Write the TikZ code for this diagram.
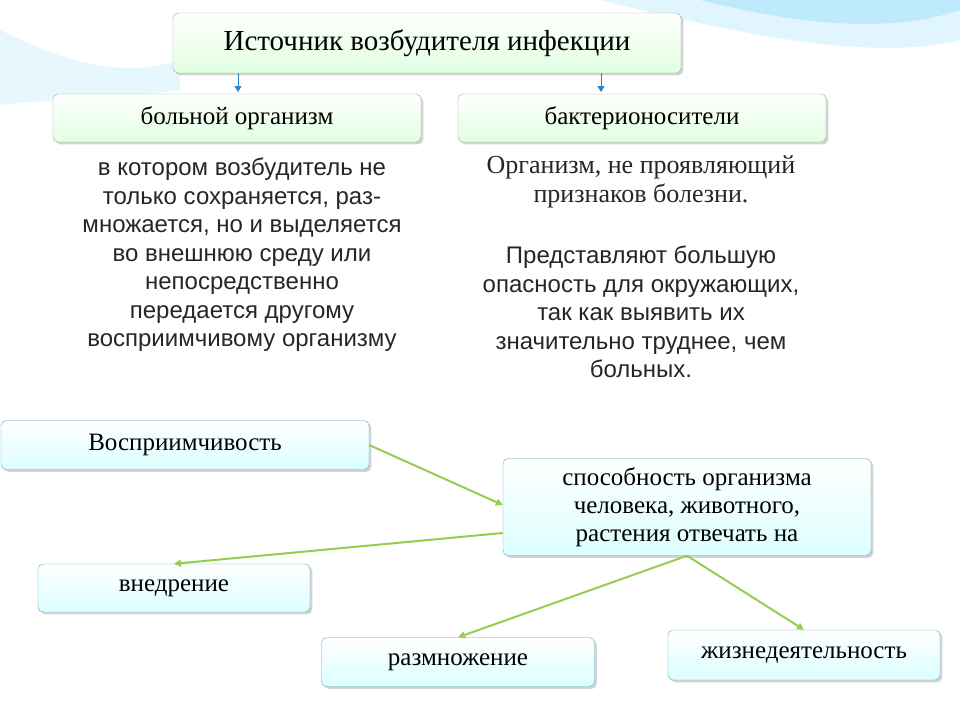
\documentclass[tikz,border=0pt]{standalone}
\usepackage{fontspec}
\setmainfont{Liberation Serif}
\setsansfont{Liberation Sans}
\usetikzlibrary{arrows.meta,shadows}
\definecolor{gbord}{RGB}{140,190,120}
\definecolor{bbord}{RGB}{90,170,190}
\definecolor{gline}{RGB}{150,205,80}
\definecolor{barrow}{RGB}{40,130,210}
\tikzset{
 gbox/.style={draw=gbord,rounded corners=5pt,top color=white,bottom color=green!12!white,drop shadow={opacity=0.35},font=\fontsize{25}{28}\selectfont,align=center},
 bbox/.style={draw=bbord,rounded corners=5pt,top color=white,bottom color=cyan!14!white,drop shadow={opacity=0.35},font=\fontsize{25}{28}\selectfont,align=center},
 gl/.style={draw=gline,line width=2pt,-{Triangle[length=7pt,width=7pt]}},
 sbody/.style={font=\sffamily\fontsize{24}{28.5}\selectfont,align=center,text=black!85},
 rbody/.style={font=\fontsize{26}{28.5}\selectfont,align=center,text=black!85}
}
\begin{document}
\begin{tikzpicture}[x=1pt,y=-1pt]
\useasboundingbox (0,0) rectangle (960,720);
\fill[cyan!12] (600,0) .. controls (760,40) and (880,60) .. (960,40) -- (960,0) -- cycle;
\fill[cyan!25] (700,0) .. controls (820,30) and (900,30) .. (960,10) -- (960,0) -- cycle;
\fill[cyan!10] (0,30) .. controls (60,60) and (120,80) .. (180,60) -- (180,90) .. controls (100,100) and (40,100) .. (0,105) -- cycle;
\node[gbox,minimum width=508pt,minimum height=60pt,font=\fontsize{29}{32}\selectfont] (src) at (427,43) {Источник возбудителя инфекции};
\node[gbox,minimum width=368pt,minimum height=48pt] (sick) at (237,118) {больной организм};
\node[gbox,minimum width=368pt,minimum height=48pt] (carr) at (642,118) {бактерионосители};
\draw[barrow,line width=1pt,-{Triangle[length=6pt,width=7pt]}] (238,73) -- (238,92);
\draw[barrow,line width=1pt,-{Triangle[length=6pt,width=7pt]}] (601,73) -- (601,92);
\node[sbody] (t1) at (242,255) {в котором возбудитель не\\только сохраняется, раз-\\множается, но и выделяется\\во внешнюю среду или\\непосредственно\\передается другому\\восприимчивому организму};
\node[rbody] (t2) at (641,182) {Организм, не проявляющий\\признаков болезни.};
\node[sbody] (t3) at (641,312) {Представляют большую\\опасность для окружающих,\\так как выявить их\\значительно труднее, чем\\больных.};
\node[bbox,minimum width=368pt,minimum height=49pt] (v) at (185,445) {Восприимчивость};
\node[bbox,minimum width=368pt,minimum height=97pt] (s) at (687,507) {способность организма\\человека, животного,\\растения отвечать на};
\node[bbox,minimum width=272pt,minimum height=48pt] (vn) at (174,588) {внедрение};
\node[bbox,minimum width=273pt,minimum height=49pt] (r) at (458,662) {размножение};
\node[bbox,minimum width=272pt,minimum height=50pt] (z) at (804,655) {жизнедеятельность};
\draw[gl] (v.east) -- (s.west|-0,505);
\draw[gl] (s.west|-0,533) -- (vn.north);
\draw[gl] (s.south) -- (r.north);
\draw[gl] (s.south) -- (z.north);
\end{tikzpicture}
\end{document}
